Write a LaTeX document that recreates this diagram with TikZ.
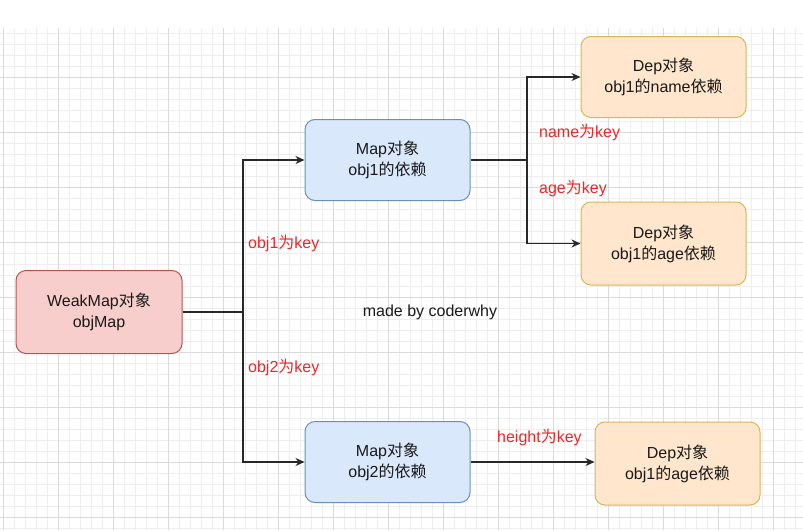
\documentclass[tikz,border=0pt]{standalone}
\usepackage{fontspec}
\setmainfont{Liberation Sans}
\newfontfamily\cjk{Noto Sans CJK SC}
\newcommand{\zh}[1]{{\cjk #1}}
\usetikzlibrary{arrows.meta,positioning,calc}

\definecolor{gridminor}{RGB}{238,238,238}
\definecolor{gridmajor}{RGB}{218,218,218}
\definecolor{redfill}{RGB}{248,206,204}
\definecolor{redline}{RGB}{184,84,80}
\definecolor{bluefill}{RGB}{218,232,252}
\definecolor{blueline}{RGB}{108,142,191}
\definecolor{orangefill}{RGB}{255,230,204}
\definecolor{orangeline}{RGB}{214,182,86}
\definecolor{keyred}{RGB}{232,40,40}
\definecolor{wire}{RGB}{40,40,40}

\begin{document}
\begin{tikzpicture}
   [x=1pt,y=-1pt,
    every node/.style={font=\fontsize{16}{21}\selectfont, text=black!90},
    box/.style={draw, rounded corners=10pt, line width=1pt, align=center,
                minimum width=165pt, minimum height=81pt},
    weakbox/.style={box, fill=redfill, draw=redline},
    mapbox/.style={box, fill=bluefill, draw=blueline},
    depbox/.style={box, fill=orangefill, draw=orangeline},
    keylabel/.style={text=keyred, anchor=west, inner sep=0pt},
    link/.style={draw=wire, line width=1.5pt},
    arrowlink/.style={link, -{Stealth[length=9pt,width=8pt]}}]
   \useasboundingbox (0,0) rectangle (803,530);
   % background grid
   \begin{scope}
   \clip (0,28) rectangle (803,530);
   \foreach \k in {0,...,73} \draw[gridminor] (3.3+11*\k,0) -- (3.3+11*\k,530);
   \foreach \k in {0,...,46} \draw[gridminor] (0,22+11*\k) -- (803,22+11*\k);
   \foreach \k in {0,...,14} \draw[gridmajor] (3.3+55*\k,0) -- (3.3+55*\k,530);
   \foreach \k in {0,...,9} \draw[gridmajor] (0,22+55*\k) -- (803,22+55*\k);
   \end{scope}
   \node[weakbox, minimum width=166pt, minimum height=83pt] (weak) at (99,312) {WeakMap\zh{对象}\\objMap};
   \node[mapbox] (map1) at (387.5,160) {Map\zh{对象}\\obj1\zh{的依赖}};
   \node[mapbox] (map2) at (387.5,462) {Map\zh{对象}\\obj2\zh{的依赖}};
   \node[depbox] (dep1) at (663.5,77) {Dep\zh{对象}\\obj1\zh{的}name\zh{依赖}};
   \node[depbox, minimum height=83pt] (dep2) at (663.5,243.5) {Dep\zh{对象}\\obj1\zh{的}age\zh{依赖}};
   \node[depbox, minimum height=83pt] (dep3) at (677.5,463.5) {Dep\zh{对象}\\obj1\zh{的}age\zh{依赖}};
   \coordinate (split1) at (243,312);
   \coordinate (split2) at (527,160);
   \node[keylabel] (k1) at (248,243) {obj1\zh{为}key};
   \node[keylabel] (k2) at (248,367) {obj2\zh{为}key};
   \node[keylabel] (k3) at (539,132) {name\zh{为}key};
   \node[keylabel] (k4) at (539,188) {age\zh{为}key};
   \node[keylabel] (k5) at (497,437) {height\zh{为}key};
   \node (sign) at (430,312) {made by coderwhy};
   \path[link] (weak.east) -- (split1);
   \path[arrowlink] (split1) |- (map1.west);
   \path[arrowlink] (split1) |- (map2.west);
   \path[link] (map1.east) -- (split2);
   \path[arrowlink] (split2) |- (dep1.west);
   \path[arrowlink] (split2) |- (dep2.west);
   \path[arrowlink] (map2.east) -- (dep3.west |- map2.east);
\end{tikzpicture}
\end{document}
